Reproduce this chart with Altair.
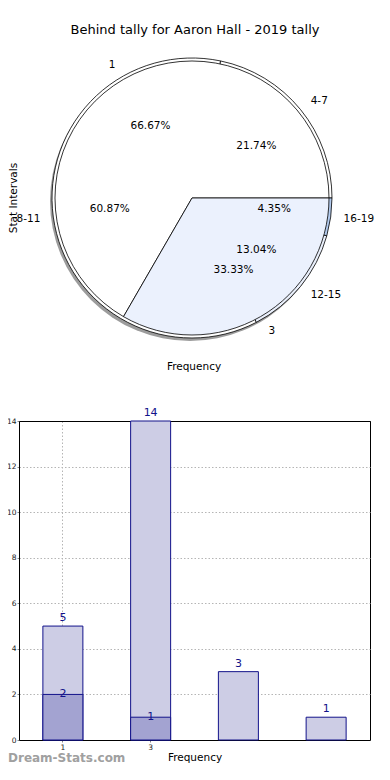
import math
import altair as alt
import pandas as pd

# ---------------- data ----------------
title_text = "Behind tally for Aaron Hall - 2019 tally"
interval_labels = ["4-7", "8-11", "12-15", "16-19"]
interval_counts = [5, 14, 3, 1]
freq_labels = ["1", "3"]
freq_counts = [2, 1]
y_ticks = [0, 2, 4, 6, 8, 10, 12, 14]
axis_title_y = "Stat Intervals"
axis_title_x = "Frequency"
watermark_text = "Dream-Stats.com"

outer_df = pd.DataFrame({"name": interval_labels, "count": interval_counts,
                         "idx": list(range(len(interval_labels)))})
inner_df = pd.DataFrame({"name": freq_labels, "count": freq_counts,
                         "idx": list(range(len(freq_labels)))})
bar_df = pd.DataFrame({"slot": interval_labels, "count": interval_counts})
dark_df = pd.DataFrame({"slot": interval_labels[:len(freq_labels)],
                        "count": freq_counts, "label": freq_labels})

# ---------------- layout / style ----------------
FONT = "DejaVu Sans"
PLOT_W, PLOT_H = 351, 319
CX, CY = 173, -223          # pie centre, in plot-area coordinates
R_OUT, R_IN = 140, 137
NAVY = "#12128a"
Y_MAX = max(y_ticks)

pie_colors = ["#ffffff", "#ffffff", "#e9effb", "#b3cbee", "#ffffff", "#ebf1fd"]
color_scale = alt.Scale(domain=interval_labels + freq_labels, range=pie_colors)
theta_range = [2.5 * math.pi, 0.5 * math.pi]


def pie_arc(df, radius):
    total = float(df["count"].sum())
    return alt.Chart(df).mark_arc(radius=radius, stroke="black", strokeWidth=0.8).encode(
        theta=alt.Theta("count:Q", stack=True,
                        scale=alt.Scale(domain=[0, total], range=theta_range)),
        order=alt.Order("idx:Q"),
        color=alt.Color("name:N", scale=color_scale, legend=None),
        x=alt.value(CX), y=alt.value(CY),
    )


def pie_text(df, label_radius=153, pct_radius=83):
    total = float(df["count"].sum())
    lab = (alt.Chart(df).transform_joinaggregate(total="sum(count)")
           .transform_window(cum="sum(count)", sort=[alt.SortField("idx")], frame=[None, 0])
           .transform_calculate(mid="datum.cum - datum.count / 2",
                                frac="datum.count / datum.total",
                                right="cos(2 * PI * datum.mid / datum.total) >= 0"))
    enc = dict(theta=alt.Theta("mid:Q", stack=None,
                               scale=alt.Scale(domain=[0, total], range=theta_range)),
               x=alt.value(CX), y=alt.value(CY))
    style = dict(baseline="middle", font=FONT, fontSize=10.5, color="black")
    names_r = lab.transform_filter("datum.right").mark_text(
        radius=label_radius, align="left", **style).encode(text="name:N", **enc)
    names_l = lab.transform_filter("!datum.right").mark_text(
        radius=label_radius, align="right", **style).encode(text="name:N", **enc)
    pct = lab.mark_text(radius=pct_radius, align="center", **style).encode(
        text=alt.Text("frac:Q", format=".2%"), **enc)
    return [names_r, names_l, pct]


shadow = alt.Chart(outer_df).mark_arc(radius=R_OUT, color="#9c9c9c").encode(
    theta=alt.Theta("sum(count):Q"),
    x=alt.value(CX - 2), y=alt.value(CY + 3),
)


def free_text(t, x, y, **kw):
    return alt.Chart(pd.DataFrame({"t": [t]})).mark_text(**kw).encode(
        text="t:N", x=alt.value(x), y=alt.value(y))


title = free_text(title_text, 176, -391, font=FONT, fontSize=13, color="black",
                  baseline="middle")
pie_ytitle = free_text(axis_title_y, -5, CY, angle=270, font=FONT, fontSize=10.5,
                       color="black", baseline="middle")
pie_xtitle = free_text(axis_title_x, CX + 2, -54, font=FONT, fontSize=10.5,
                       color="black", baseline="middle")
watermark = free_text(watermark_text, -11, PLOT_H + 18, font=FONT, fontSize=12,
                      fontWeight="bold", color="#a0a0a0", align="left",
                      baseline="middle")

# ---------------- bars ----------------
label_expr = " : ".join(
    f"datum.value === '{s}' ? '{l}'" for s, l in zip(interval_labels, freq_labels)
) + " : ''"

x_enc = alt.X("slot:N", sort=interval_labels,
              scale=alt.Scale(domain=interval_labels, paddingInner=0, paddingOuter=0),
              axis=alt.Axis(values=interval_labels[:len(freq_labels)], labelExpr=label_expr,
                            labelAngle=0, title=axis_title_x, titlePadding=2))
y_enc = alt.Y("count:Q", scale=alt.Scale(domain=[0, Y_MAX], nice=False),
              axis=alt.Axis(values=y_ticks, title=axis_title_y, titlePadding=4,
                            gridColor={"condition": {"test": f"datum.value === {Y_MAX}",
                                                     "value": "black"},
                                       "value": "#b5b5b5"},
                            gridDash={"condition": {"test": f"datum.value === {Y_MAX}",
                                                    "value": []},
                                      "value": [1.5, 2]}))

light = alt.Chart(bar_df).mark_bar(size=40, fill="#cdcde5", stroke=NAVY, strokeWidth=1).encode(
    x=x_enc, y=y_enc)
light_txt = alt.Chart(bar_df).mark_text(dy=-3, baseline="bottom", font=FONT, fontSize=11,
                                        color=NAVY).encode(
    x=alt.X("slot:N", sort=interval_labels), y="count:Q", text="count:Q")
dark = alt.Chart(dark_df).mark_bar(size=40, fill="#a3a3d1", stroke=NAVY, strokeWidth=1).encode(
    x=alt.X("slot:N", sort=interval_labels), y="count:Q")
dark_txt = alt.Chart(dark_df).mark_text(baseline="middle", font=FONT, fontSize=11,
                                        color=NAVY).encode(
    x=alt.X("slot:N", sort=interval_labels), y="count:Q", text="count:Q")

layers = [light, dark, light_txt, dark_txt, shadow,
          pie_arc(outer_df, R_OUT), pie_arc(inner_df, R_IN)]
layers += pie_text(outer_df) + pie_text(inner_df)
layers += [title, pie_ytitle, pie_xtitle, watermark]

chart = alt.layer(*layers).resolve_scale(theta="independent").properties(
    width=PLOT_W, height=PLOT_H,
    autosize=alt.AutoSizeParams(type="none"),
    padding={"left": 11, "top": 413, "right": 10, "bottom": 26},
).configure_view(stroke="black", strokeWidth=1).configure_axis(
    labelFont=FONT, titleFont=FONT, labelFontSize=7.5, titleFontSize=10.5,
    titleFontWeight="normal", labelColor="#222222", titleColor="black",
    domainColor="black", tickColor="#888888", tickSize=2, labelPadding=1,
    grid=True, gridColor="#b5b5b5", gridDash=[1.5, 2], gridWidth=1,
)

chart.save("out.html", embed_options={"renderer": "svg", "actions": False})
